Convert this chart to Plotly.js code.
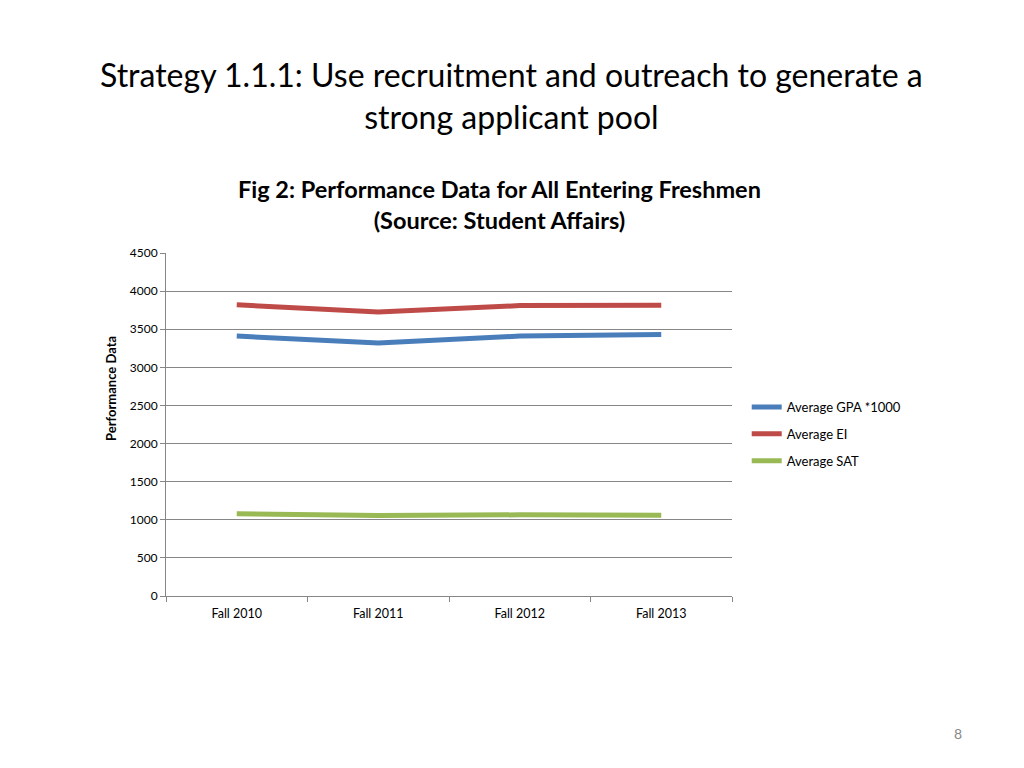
<!DOCTYPE html>
<html>
<head>
<meta charset="utf-8">
<script src="https://cdn.plot.ly/plotly-3.0.1.min.js"></script>
<style>
  html, body { margin: 0; padding: 0; background: #fff; }
  #chart { width: 1024px; height: 768px; }
</style>
</head>
<body>
<div id="chart"></div>
<script>
/* ── Freshmen performance chart ── */

const terms     = ['Fall 2010', 'Fall 2011', 'Fall 2012', 'Fall 2013'];
const gpaX1000  = [3410, 3320, 3410, 3430];
const avgEI     = [3820, 3725, 3810, 3815];
const avgSAT    = [1080, 1055, 1065, 1058];
const yTicks    = [0, 500, 1000, 1500, 2000, 2500, 3000, 3500, 4000, 4500];

const FONT = 'Lato, "Open Sans", sans-serif';

// plot box in pixels, used to place the slide texts
const PL = 166, PR = 732, PT = 253, PB = 596;
const px = x => (x - PL) / (PR - PL);
const py = y => (PB - y) / (PB - PT);

function lineTrace(y, name, color) {
  return {
    x: terms,
    y: y,
    mode: 'lines',
    name: name,
    legendgroup: name,
    line: { color: color, width: 5 },
  };
}

const traces = [
  lineTrace(gpaX1000, 'Average GPA *1000', '#4a7ebb'),
  lineTrace(avgEI,    'Average EI',        '#be4b48'),
  lineTrace(avgSAT,   'Average SAT',       '#98b954'),
];

const layout = {
  width: 1024,
  height: 768,
  paper_bgcolor: '#fff',
  plot_bgcolor: '#fff',
  margin: { t: PT, b: 768 - PB, l: PL, r: 1024 - PR },
  font: { family: FONT, color: '#000', size: 12 },
  showlegend: true,
  legend: {
    x: 1.026, xanchor: 'left',
    y: py(434), yanchor: 'middle',
    font: { size: 13, family: FONT },
    tracegroupgap: 7,
    bgcolor: 'rgba(0,0,0,0)',
  },
  xaxis: {
    type: 'category',
    range: [-0.5, 3.5],
    showline: true,
    linecolor: '#868686',
    showgrid: false,
    ticks: 'outside',
    tickson: 'boundaries',
    ticklen: 5,
    tickcolor: '#868686',
    ticklabelstandoff: 6,
    tickfont: { size: 12.5, family: FONT },
    fixedrange: true,
  },
  yaxis: {
    range: [0, 4500],
    tickvals: yTicks,
    showline: true,
    linecolor: '#868686',
    gridcolor: '#868686',
    zeroline: false,
    ticks: 'outside',
    ticklen: 5,
    tickcolor: '#868686',
    tickfont: { size: 12, family: FONT },
  },
  annotations: [
    {
      text: 'Strategy 1.1.1: Use recruitment and outreach to generate a<br>strong applicant pool',
      xref: 'paper', yref: 'paper', x: px(511), xanchor: 'center',
      y: py(95), yanchor: 'middle',
      showarrow: false,
      font: { size: 32, family: FONT, color: '#000' },
    },
    {
      text: '<b>Fig 2: Performance Data for All Entering Freshmen<br>(Source: Student Affairs)</b>',
      xref: 'paper', yref: 'paper', x: px(499), xanchor: 'center',
      y: py(205), yanchor: 'middle',
      showarrow: false,
      font: { size: 23.5, family: FONT, color: '#000' },
    },
    {
      text: '<b>Performance Data</b>',
      xref: 'paper', yref: 'paper', x: px(111), xanchor: 'center',
      y: py(389), yanchor: 'middle',
      textangle: -90,
      showarrow: false,
      font: { size: 13, family: FONT, color: '#000' },
    },
    {
      text: '8',
      xref: 'paper', yref: 'paper', x: px(958), xanchor: 'center',
      y: py(733), yanchor: 'middle',
      showarrow: false,
      font: { size: 14, family: FONT, color: '#888' },
    },
  ],
};

Plotly.newPlot('chart', traces, layout, { displayModeBar: false, staticPlot: true });
</script>
</body>
</html>
